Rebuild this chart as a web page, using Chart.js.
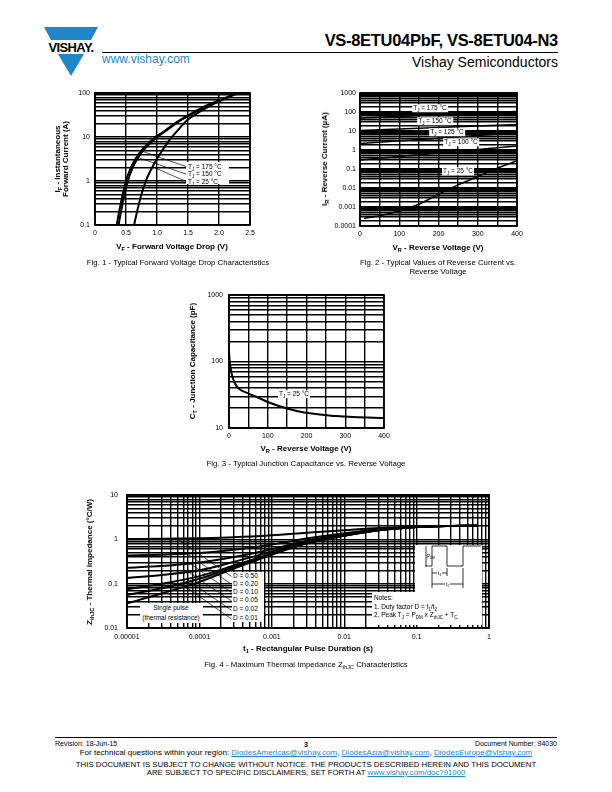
<!DOCTYPE html>
<html>
<head>
<meta charset="utf-8">
<script src="https://cdn.jsdelivr.net/npm/chart.js@4.4.1/dist/chart.umd.min.js"></script>
<style>
  body { margin:0; width:612px; height:792px; position:relative; background:#fff; overflow:hidden;
         font-family:"Liberation Sans", Arial, sans-serif; color:#000; }
  canvas { position:absolute; }
  .t { position:absolute; white-space:nowrap; line-height:1; }
  .c { transform:translate(-50%,-50%); }
  .r { transform:translate(-50%,-50%) rotate(-90deg); text-align:center; }
  .ax { font-size:8px; font-weight:bold; }
  .cap { font-size:7.8px; text-align:center; }
  .lb { position:absolute; background:#fff; font-size:6.5px; line-height:1; white-space:nowrap; padding:0.5px 1px; }
  sub { font-size:70%; vertical-align:-1.5px; line-height:0; }
  a { color:#1f86c8; text-decoration:underline; }
</style>
</head>
<body>

<!-- header -->
<svg class="t" style="left:40px;top:24px" width="62" height="56" viewBox="0 0 62 56">
  <polygon points="4,3 58,3 51,16 11,16" fill="#1f86c8"/>
  <polygon points="18,30 44,30 31,52" fill="#1f86c8"/>
  <text x="31" y="28" text-anchor="middle" font-family="Liberation Sans" font-weight="bold" font-size="13" letter-spacing="-0.6">VISHAY.</text>
</svg>
<div class="t" style="left:102px;top:53px;font-size:12px;color:#1f86c8">www.vishay.com</div>
<div class="t" style="right:54px;top:32px;font-size:16.5px;font-weight:bold;letter-spacing:-0.3px">VS-8ETU04PbF, VS-8ETU04-N3</div>
<div class="t" style="left:102px;top:52px;width:456px;height:1px;background:#000"></div>
<div class="t" style="right:54px;top:55px;font-size:14px">Vishay Semiconductors</div>

<canvas id="c1" width="225" height="160" style="left:40px;top:83px"></canvas>
<canvas id="c2" width="222" height="160" style="left:310px;top:83px"></canvas>
<canvas id="c3" width="219" height="160" style="left:180px;top:285px"></canvas>
<canvas id="c4" width="420" height="160" style="left:80px;top:485px"></canvas>

<!-- Fig. 1 text -->
<div class="t r ax" style="left:62px;top:159px">I<sub>F</sub> - Instantaneous<br>Forward Current (A)</div>
<div class="t c ax" style="left:172px;top:247px">V<sub>F</sub> - Forward Voltage Drop (V)</div>
<div class="t c cap" style="left:178px;top:263px">Fig. 1 - Typical Forward Voltage Drop Characteristics</div>
<div class="lb" style="left:186px;top:162px;width:43px;height:22px;padding:0"></div>
<div class="t" style="left:188px;top:164px;font-size:6.5px">T<sub>J</sub> = 175 °C</div>
<div class="t" style="left:188px;top:171px;font-size:6.5px">T<sub>J</sub> = 150 °C</div>
<div class="t" style="left:188px;top:179px;font-size:6.5px">T<sub>J</sub> = 25 °C</div>

<!-- Fig. 2 text -->
<div class="t r ax" style="left:325px;top:159px">I<sub>R</sub> - Reverse Current (µA)</div>
<div class="t c ax" style="left:438px;top:248px">V<sub>R</sub> - Reverse Voltage (V)</div>
<div class="t c cap" style="left:438px;top:267px;line-height:9px">Fig. 2 - Typical Values of Reverse Current vs.<br>Reverse Voltage</div>
<div class="lb c" style="left:430px;top:108px">T<sub>J</sub> = 175 °C</div>
<div class="lb c" style="left:435px;top:121px">T<sub>J</sub> = 150 °C</div>
<div class="lb c" style="left:447px;top:132px">T<sub>J</sub> = 125 °C</div>
<div class="lb c" style="left:461px;top:142px">T<sub>J</sub> = 100 °C</div>
<div class="lb c" style="left:458px;top:171px">T<sub>J</sub> = 25 °C</div>

<!-- Fig. 3 text -->
<div class="t r ax" style="left:193px;top:361px">C<sub>T</sub> - Junction Capacitance (pF)</div>
<div class="t c ax" style="left:306px;top:449px">V<sub>R</sub> - Reverse Voltage (V)</div>
<div class="t c cap" style="left:306px;top:464px">Fig. 3 - Typical Junction Capacitance vs. Reverse Voltage</div>
<div class="lb c" style="left:294px;top:394px">T<sub>J</sub> = 25 °C</div>

<!-- Fig. 4 text -->
<div class="t r ax" style="left:90px;top:562px">Z<sub>thJC</sub> - Thermal Impedance (°C/W)</div>
<div class="t c ax" style="left:308px;top:649px">t<sub>1</sub> - Rectangular Pulse Duration (s)</div>
<div class="t c cap" style="left:306px;top:665px">Fig. 4 - Maximum Thermal Impedance Z<sub>thJC</sub> Characteristics</div>
<div class="lb" style="left:140px;top:603px;width:63px;height:20px;padding:0"></div>
<div class="t c" style="left:171px;top:608px;font-size:6.5px">Single pulse</div>
<div class="t c" style="left:171px;top:618px;font-size:6.5px">(thermal resistance)</div>
<div class="lb" style="left:232px;top:572px;width:32px;height:50px;padding:0"></div>
<div class="t" style="left:233px;top:573px;font-size:6.5px">D = 0.50</div>
<div class="t" style="left:233px;top:581px;font-size:6.5px">D = 0.20</div>
<div class="t" style="left:233px;top:589px;font-size:6.5px">D = 0.10</div>
<div class="t" style="left:233px;top:597px;font-size:6.5px">D = 0.05</div>
<div class="t" style="left:233px;top:606px;font-size:6.5px">D = 0.02</div>
<div class="t" style="left:233px;top:615px;font-size:6.5px">D = 0.01</div>
<div class="lb" style="left:415px;top:545px;width:67px;height:48px;padding:0"></div>
<div class="lb" style="left:372px;top:592px;width:110px;height:33px;padding:0"></div>
<svg class="t" style="left:415px;top:540px" width="70" height="52">
  <g stroke="#000" stroke-width="0.8" fill="none">
    <polyline points="10,26 17,26 17,6 32,6 32,26 48,26 48,6 66,6"/>
    <line x1="11" y1="6" x2="11" y2="26"/>
    <line x1="17" y1="33" x2="32" y2="33"/>
    <line x1="17" y1="44" x2="48" y2="44"/>
    <line x1="17" y1="28" x2="17" y2="48"/>
    <line x1="32" y1="28" x2="32" y2="36"/>
    <line x1="48" y1="28" x2="48" y2="48"/>
  </g>
  <text x="12" y="18" font-family="Liberation Sans" font-size="4.5">P<tspan font-size="3.2" dy="1">DM</tspan></text>
  <rect x="22" y="30" width="5" height="5" fill="#fff"/>
  <text x="23" y="35" font-family="Liberation Sans" font-size="5">t<tspan font-size="3.5" dy="1">1</tspan></text>
  <rect x="30" y="41" width="5" height="5" fill="#fff"/>
  <text x="31" y="46" font-family="Liberation Sans" font-size="5">t<tspan font-size="3.5" dy="1">2</tspan></text>
</svg>
<div class="t" style="left:374px;top:594px;font-size:6.5px;line-height:8.5px">Notes:<br>1. Duty factor D = t<sub>1</sub>/t<sub>2</sub><br>2. Peak T<sub>J</sub> = P<sub>DM</sub> x Z<sub>thJC</sub> + T<sub>C</sub></div>

<!-- footer -->
<div class="t" style="left:55px;top:737px;width:502px;height:1px;background:#000"></div>
<div class="t" style="left:55px;top:740px;font-size:7px">Revision: 18-Jun-15</div>
<div class="t c" style="left:306px;top:744px;font-size:7px;font-weight:bold">3</div>
<div class="t" style="right:55px;top:740px;font-size:7px">Document Number: 94030</div>
<div class="t c" style="left:306px;top:753px;font-size:8px">For technical questions within your region: <a>DiodesAmericas@vishay.com</a>, <a>DiodesAsia@vishay.com</a>, <a>DiodesEurope@vishay.com</a></div>
<div class="t c" style="left:306px;top:769px;font-size:7.8px;line-height:8px;text-align:center">THIS DOCUMENT IS SUBJECT TO CHANGE WITHOUT NOTICE. THE PRODUCTS DESCRIBED HEREIN AND THIS DOCUMENT<br>ARE SUBJECT TO SPECIFIC DISCLAIMERS, SET FORTH AT <a>www.vishay.com/doc?91000</a></div>

<script>
// Fig. 1 - forward voltage drop
const vfTicks   = ['0', '0.5', '1.0', '1.5', '2.0', '2.5'];
const ifDecades = ['0.1', '1', '10', '100'];
const vf175 = [0.35, 0.40, 0.45, 0.50, 0.56, 0.63, 0.72, 0.83, 0.95, 1.10, 1.30, 1.50, 1.80, 2.00, 2.20, 2.30];
const if175 = [0.1, 0.24, 0.52, 1, 1.75, 2.8, 4.4, 6.6, 9.4, 13, 21, 31, 52, 68, 88, 100];
const vf150 = [0.38, 0.43, 0.48, 0.53, 0.59, 0.66, 0.75, 0.86, 0.98, 1.12, 1.32, 1.52, 1.80, 2.00, 2.20, 2.30];
const if150 = [0.1, 0.24, 0.52, 1, 1.75, 2.8, 4.4, 6.6, 9.4, 13, 21, 31, 50, 66, 86, 98];
const vf25  = [0.63, 0.72, 0.82, 0.92, 1.00, 1.10, 1.20, 1.35, 1.50, 1.70, 1.90, 2.10, 2.25, 2.32];
const if25  = [0.1, 0.35, 1, 2, 3.2, 5.3, 8.5, 15, 25, 38, 55, 75, 95, 105];
const lead1 = [[0.75, 4.8, 1.48, 2.1], [0.70, 3.4, 1.48, 1.42], [0.93, 2.1, 1.48, 0.96]];

// Fig. 2 - reverse current
const vrTicks   = ['0', '100', '200', '300', '400'];
const irDecades = ['0.0001', '0.001', '0.01', '0.1', '1', '10', '100', '1000'];
const vrEnds = [0, 400];
const ir175 = [48, 105];
const ir150 = [10.5, 22];
const ir125 = [2.2, 8];
const ir100 = [0.3, 1.6];
const vr25  = [10, 50, 100, 150, 200, 250, 300, 350, 400];
const ir25  = [0.00025, 0.00035, 0.00062, 0.0014, 0.0047, 0.0145, 0.04, 0.11, 0.27];

// Fig. 3 - junction capacitance
const ctDecades = ['10', '100', '1000'];
const vrCap = [0, 2, 5, 10, 19, 28, 45, 79, 105, 148, 191, 234, 277, 321, 400];
const ctCap = [140, 100, 75, 56, 43, 38, 34, 28, 24, 19.8, 17.2, 16, 15.1, 14.6, 14.1];

// Fig. 4 - thermal impedance
const tDecades = ['0.00001', '0.0001', '0.001', '0.01', '0.1', '1'];
const zDecades = ['0.01', '0.1', '1', '10'];
const tPulse = [0.00001, 0.00003, 0.0001, 0.0003, 0.001, 0.003, 0.01, 0.03, 0.1, 0.3, 0.7];
const zD50   = [1.02, 1.03, 1.06, 1.11, 1.23, 1.40, 1.60, 1.80, 1.95, 2.00, 2.02];
const zD20   = [0.43, 0.45, 0.49, 0.58, 0.76, 1.04, 1.36, 1.68, 1.92, 2.00, 2.02];
const zD10   = [0.23, 0.25, 0.30, 0.40, 0.60, 0.92, 1.28, 1.64, 1.91, 2.00, 2.02];
const zD05   = [0.134, 0.157, 0.20, 0.31, 0.53, 0.86, 1.24, 1.62, 1.90, 2.00, 2.02];
const zD02   = [0.075, 0.099, 0.148, 0.256, 0.48, 0.82, 1.22, 1.61, 1.90, 2.00, 2.02];
const zD01   = [0.056, 0.079, 0.129, 0.238, 0.466, 0.81, 1.21, 1.60, 1.90, 2.00, 2.02];
const zSingle = [0.036, 0.06, 0.11, 0.22, 0.45, 0.80, 1.20, 1.60, 1.90, 2.00, 2.02];
const lead4 = [
  [0.0000506, 1.0, 0.000277, 0.146], [0.000067, 0.48, 0.000277, 0.0974],
  [0.000076, 0.28, 0.000277, 0.0632], [0.000072, 0.18, 0.000277, 0.0408],
  [0.000069, 0.12, 0.000277, 0.0252], [0.000056, 0.1, 0.000277, 0.016]
];

Chart.defaults.font.family = 'Liberation Sans';
const tickFont = { family: 'Liberation Sans', size: 7 };

const frame = {
  id: 'frame',
  afterDatasetsDraw(c) {
    const { left, top, right, bottom } = c.chartArea;
    c.ctx.save();
    c.ctx.strokeStyle = '#000';
    c.ctx.lineWidth = 1.8;
    c.ctx.strokeRect(left, top, right - left, bottom - top);
    c.ctx.restore();
  }
};

function logGrid(decades) {
  const out = [];
  decades.map(Number).forEach((d, i) => {
    if (i === decades.length - 1) { out.push(d); return; }
    for (let m = 1; m <= 9; m++) out.push(m * d);
  });
  return out;
}

function logAxis(decades, horiz, size, pad, lw = 1.4) {
  const vals = decades.map(Number);
  return {
    type: 'logarithmic', min: vals[0], max: vals[vals.length - 1],
    afterBuildTicks: s => { s.ticks = logGrid(decades).map(v => ({ value: v })); },
    afterFit: s => {
      if (horiz) { s.height = size; s.paddingLeft = 0; s.paddingRight = 0; }
      else { s.width = size; s.paddingTop = 0; s.paddingBottom = 0; }
    },
    grid: { color: '#000', lineWidth: lw, drawTicks: false },
    border: { display: false },
    ticks: { autoSkip: false, maxRotation: 0, padding: pad, color: '#000', font: tickFont,
             callback: v => { const i = vals.indexOf(v); return i < 0 ? '' : decades[i]; } }
  };
}

function linAxis(labels, step, size, pad, lw = 1.4) {
  const vals = labels.map(Number);
  return {
    type: 'linear', min: vals[0], max: vals[vals.length - 1],
    afterBuildTicks: s => {
      const t = [];
      for (let v = vals[0]; v <= vals[vals.length - 1] + 1e-9; v += step) t.push({ value: +v.toFixed(4) });
      s.ticks = t;
    },
    afterFit: s => { s.height = size; s.paddingLeft = 0; s.paddingRight = 0; },
    grid: { color: '#000', lineWidth: lw, drawTicks: false },
    border: { display: false },
    ticks: { autoSkip: false, maxRotation: 0, padding: pad, color: '#000', font: tickFont,
             callback: v => { const i = vals.indexOf(v); return i < 0 ? '' : labels[i]; } }
  };
}

function curve(xs, ys, w = 2) {
  return {
    data: xs.map((x, i) => ({ x, y: ys[i] })),
    borderColor: '#000', borderWidth: w, pointRadius: 0,
    cubicInterpolationMode: 'monotone', clip: 0, fill: false
  };
}

function leaders(list) {
  return list.map(l => ({
    data: [{ x: l[0], y: l[1] }, { x: l[2], y: l[3] }],
    borderColor: '#000', borderWidth: 0.7, pointRadius: 0, tension: 0, clip: 0, fill: false
  }));
}

function makeChart(id, x, y, datasets, padding) {
  return new Chart(document.getElementById(id), {
    type: 'line',
    data: { datasets },
    options: {
      responsive: false, animation: false, devicePixelRatio: 1, events: [],
      layout: { padding },
      plugins: { legend: { display: false }, tooltip: { enabled: false } },
      scales: { x, y }
    },
    plugins: [frame]
  });
}

makeChart('c1', linAxis(vfTicks, 0.5, 14, 4), logAxis(ifDecades, false, 55, 5),
  [curve(vf175, if175), curve(vf150, if150), curve(vf25, if25), ...leaders(lead1)],
  { left: 0, right: 15, top: 10, bottom: 4 });

makeChart('c2', linAxis(vrTicks, 50, 14, 4), logAxis(irDecades, false, 50, 4, 1.5),
  [curve(vrEnds, ir175, 1.5), curve(vrEnds, ir150, 1.5), curve(vrEnds, ir125, 1.5),
   curve(vrEnds, ir100, 1.5), curve(vr25, ir25, 1.5)],
  { left: 0, right: 15, top: 10, bottom: 3 });

makeChart('c3', linAxis(vrTicks, 50, 14, 4), logAxis(ctDecades, false, 49, 6),
  [curve(vrCap, ctCap, 2)],
  { left: 0, right: 15, top: 10, bottom: 3 });

makeChart('c4', logAxis(tDecades, true, 14, 5), logAxis(zDecades, false, 47, 9),
  [curve(tPulse, zD50), curve(tPulse, zD20), curve(tPulse, zD10), curve(tPulse, zD05),
   curve(tPulse, zD02), curve(tPulse, zD01), curve(tPulse, zSingle), ...leaders(lead4)],
  { left: 0, right: 11, top: 10, bottom: 3 });
</script>
</body>
</html>
